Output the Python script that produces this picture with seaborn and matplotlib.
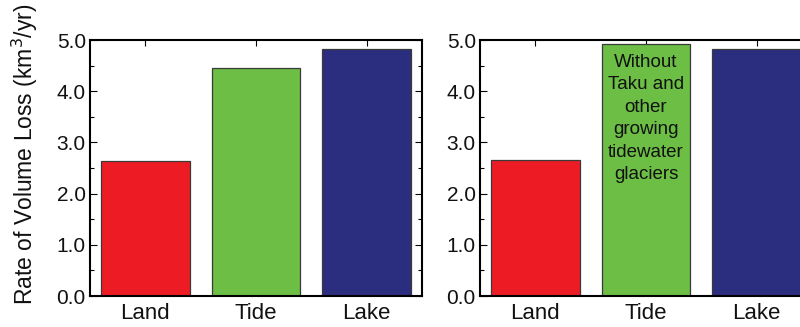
import matplotlib
matplotlib.use("Agg")
import matplotlib.pyplot as plt
from matplotlib.ticker import MultipleLocator
import seaborn as sns
import pandas as pd

# Glacier terminus types and their rates of volume loss (km^3/yr)
categories = ["Land", "Tide", "Lake"]
loss_all = [2.64, 4.45, 4.82]
loss_excluding_growing = [2.66, 4.92, 4.83]
bar_colors = ["#ED1C24", "#6CBE45", "#2B2E7E"]
tide_note = "Without\nTaku and\nother\ngrowing\ntidewater\nglaciers"
y_ticks = [0.0, 1.0, 2.0, 3.0, 4.0, 5.0]

sns.set_theme(style="white")
plt.rcParams["font.family"] = ["Liberation Sans", "DejaVu Sans"]

fig = plt.figure(figsize=(8.0, 3.27), dpi=100)
ax_left = fig.add_axes([90 / 800, 31 / 327, 332 / 800, 256 / 327])
ax_right = fig.add_axes([480 / 800, 31 / 327, 332 / 800, 256 / 327])


def draw_panel(ax, values):
    df = pd.DataFrame({"type": categories, "loss": values})
    sns.barplot(data=df, x="type", y="loss", hue="type", order=categories,
                hue_order=categories, palette=bar_colors, saturation=1,
                width=0.8, edgecolor="#3a3a3a", linewidth=0.9, legend=False,
                ax=ax)
    ax.set_xlim(-0.5, 2.5)
    ax.set_ylim(0, 5.0)
    ax.set_yticks(y_ticks)
    ax.set_yticklabels([f"{t:.1f}" for t in y_ticks])
    ax.yaxis.set_minor_locator(MultipleLocator(0.5))
    ax.set_xlabel("")
    ax.set_ylabel("")
    for side in ["left", "right", "top", "bottom"]:
        ax.spines[side].set_visible(True)
        ax.spines[side].set_color("black")
        ax.spines[side].set_linewidth(1.5)
    ax.tick_params(axis="y", which="both", direction="in", left=True,
                   right=True, labelsize=15, pad=3, colors="black")
    ax.tick_params(axis="y", which="major", length=5, width=0.8)
    ax.tick_params(axis="y", which="minor", length=3, width=0.8)
    ax.tick_params(axis="x", which="major", direction="in", top=True,
                   bottom=True, length=4, width=0.8, labelsize=16, pad=5,
                   colors="black")
    ax.tick_params(axis="both", labelcolor="#111111")


draw_panel(ax_left, loss_all)
draw_panel(ax_right, loss_excluding_growing)

ax_left.set_ylabel("Rate of Volume Loss (km$^3$/yr)", fontsize=16.5,
                   color="#111111")
ax_left.yaxis.set_label_coords(-0.152, 0.555)

ax_right.text(1, 3.47, tide_note, ha="center", va="center", fontsize=13.5,
              linespacing=1.42, color="#111111")

fig.savefig("out.png", dpi=100, facecolor="white")
